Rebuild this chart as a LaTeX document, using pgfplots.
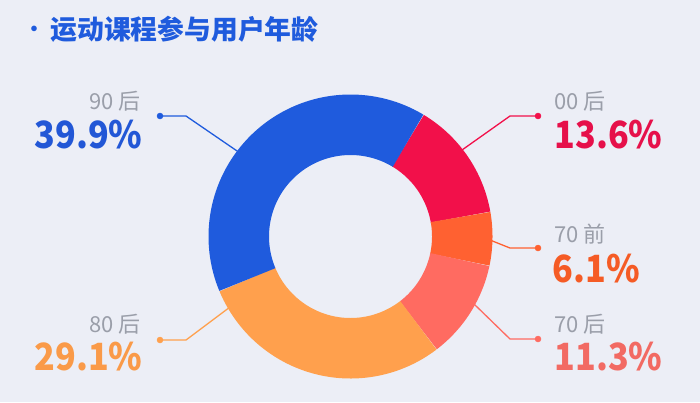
\documentclass[border=0pt]{standalone}
\usepackage{pgfplots}
\pgfplotsset{compat=1.18}
\usepackage{fontspec}
\setmainfont{Noto Sans CJK SC}
\newfontfamily\pct[FakeStretch=0.91]{Noto Sans CJK SC}
\definecolor{bg}{HTML}{ECEEF6}
\definecolor{cBlue}{HTML}{1F5BDD}
\definecolor{cRed}{HTML}{F2104A}
\definecolor{cOr}{HTML}{FF6131}
\definecolor{cSal}{HTML}{FF6B61}
\definecolor{cYel}{HTML}{FFA04D}
\definecolor{tBlue}{HTML}{2257D6}
\definecolor{tRed}{HTML}{E6104A}
\definecolor{tOr}{HTML}{F55B25}
\definecolor{tSal}{HTML}{F26A63}
\definecolor{tYel}{HTML}{FA9A48}
\definecolor{lab}{HTML}{9A9EA9}
% shares in percent
\def\sA{13.6}% 00后
\def\sB{6.1}%  70前
\def\sC{11.3}% 70后
\def\sD{29.1}% 80后
\def\sE{39.9}% 90后
\pgfmathsetmacro\aA{59}
\pgfmathsetmacro\aB{\aA-3.6*\sA}
\pgfmathsetmacro\aC{\aB-3.6*\sB}
\pgfmathsetmacro\aD{\aC-3.6*\sC}
\pgfmathsetmacro\aE{\aD-3.6*\sD}
\pgfmathsetmacro\aF{\aE-3.6*\sE}
\def\cx{350.5}\def\cy{236.5}\def\rm{111.75}
\tikzset{
  bigpct/.style={font=\fontsize{37.5}{38}\selectfont\pct\bfseries},
  smalllab/.style={text=lab, font=\fontsize{22}{22}\selectfont},
}
\begin{document}
\begin{tikzpicture}
\begin{axis}[
  width=700pt, height=402pt, scale only axis,
  xmin=0, xmax=700, ymin=0, ymax=402, y dir=reverse,
  hide axis, clip=false,
  axis background/.style={fill=bg},
  seg/.style={line width=60.5pt, line cap=butt, line join=round, no markers},
  lead/.style={line width=1.3pt, no markers},
  dot/.style={only marks, mark=*, mark size=3pt},
]
% leader lines
\addplot[lead, cBlue] coordinates {(160,116) (186,116) (240,153)};
\addplot[lead, cRed] coordinates {(538,116) (510,116) (462,150)};
\addplot[lead, cOr] coordinates {(538,248) (510,248) (490,240)};
\addplot[lead, cSal] coordinates {(538,339) (510,339) (474,304)};
\addplot[lead, cYel] coordinates {(160,340) (186,340) (230,307)};
\addplot[dot, cBlue] coordinates {(160,116)};
\addplot[dot, cRed] coordinates {(538,116)};
\addplot[dot, cOr] coordinates {(538,248)};
\addplot[dot, cSal] coordinates {(538,339)};
\addplot[dot, cYel] coordinates {(160,340)};
% donut
\addplot[seg, cRed, domain=\aB:\aA, samples=60] ({\cx+\rm*cos(x)},{\cy-\rm*sin(x)});
\addplot[seg, cOr, domain=\aC:\aB, samples=40] ({\cx+\rm*cos(x)},{\cy-\rm*sin(x)});
\addplot[seg, cSal, domain=\aD:\aC, samples=60] ({\cx+\rm*cos(x)},{\cy-\rm*sin(x)});
\addplot[seg, cYel, domain=\aE:\aD, samples=100] ({\cx+\rm*cos(x)},{\cy-\rm*sin(x)});
\addplot[seg, cBlue, domain=\aF:\aE, samples=120] ({\cx+\rm*cos(x)},{\cy-\rm*sin(x)});
% title
\node[text=cBlue, font=\fontsize{20}{20}\selectfont\bfseries] at (axis cs:34,31) {·};
\node[anchor=base west, text=cBlue, font=\fontsize{26.8}{27}\selectfont\bfseries] at (axis cs:47,39) {运动课程参与用户年龄};
% labels
\node[anchor=base east, smalllab] at (axis cs:144,109) {90 后};
\node[anchor=base east, text=tBlue, bigpct] at (axis cs:146,148) {39.9\%};
\node[anchor=base east, smalllab] at (axis cs:144,332) {80 后};
\node[anchor=base east, text=tYel, bigpct] at (axis cs:146,370) {29.1\%};
\node[anchor=base west, smalllab] at (axis cs:551,109) {00 后};
\node[anchor=base west, text=tRed, bigpct] at (axis cs:551,148) {13.6\%};
\node[anchor=base west, smalllab] at (axis cs:551,242) {70 前};
\node[anchor=base west, text=tOr, bigpct] at (axis cs:549,282) {6.1\%};
\node[anchor=base west, smalllab] at (axis cs:551,332) {70 后};
\node[anchor=base west, text=tSal, bigpct] at (axis cs:551,370) {11.3\%};
\end{axis}
\end{tikzpicture}
\end{document}
